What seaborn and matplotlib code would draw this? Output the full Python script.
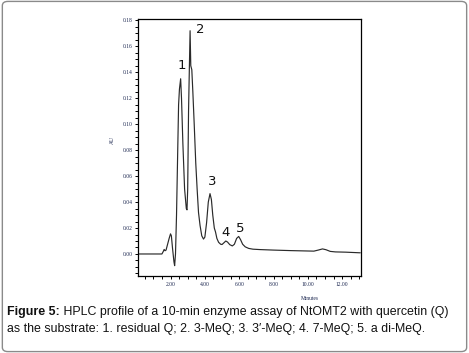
import pandas as pd
import matplotlib.pyplot as plt
import seaborn as sns
from matplotlib.ticker import MultipleLocator, FormatStrFormatter
from matplotlib.patches import FancyBboxPatch

# HPLC trace (minutes, AU)
minutes = [0.10, 1.50, 1.58, 1.63, 1.68, 1.74, 1.82, 1.92, 2.00, 2.05, 2.12, 2.20,
           2.24, 2.29, 2.35, 2.42, 2.47, 2.52, 2.59, 2.64, 2.72, 2.82, 2.92, 2.96,
           3.00, 3.05, 3.10, 3.14, 3.18, 3.24, 3.30, 3.38, 3.47, 3.55, 3.63, 3.72,
           3.82, 3.92, 4.00, 4.10, 4.20, 4.30, 4.38, 4.46, 4.55, 4.62, 4.70, 4.80,
           4.92, 5.00, 5.10, 5.22, 5.32, 5.45, 5.60, 5.72, 5.85, 5.97, 6.08, 6.20,
           6.35, 6.55, 6.80, 7.20, 8.00, 9.00, 10.00, 10.35, 10.60, 10.85, 11.05,
           11.30, 11.60, 12.20, 13.05]
au = [0.0, 0.0, 0.002, 0.0035, 0.0025, 0.003, 0.007, 0.012, 0.0155, 0.014, 0.004, -0.006,
      -0.009, 0.0, 0.03, 0.08, 0.115, 0.127, 0.135, 0.12, 0.085, 0.05, 0.035, 0.034,
      0.05, 0.11, 0.145, 0.172, 0.145, 0.142, 0.125, 0.10, 0.07, 0.05, 0.032, 0.022,
      0.014, 0.0115, 0.013, 0.024, 0.040, 0.0465, 0.042, 0.03, 0.02, 0.017, 0.012, 0.009,
      0.0075, 0.0073, 0.0085, 0.0100, 0.0092, 0.0072, 0.0062, 0.0075, 0.012, 0.0135, 0.011, 0.0075,
      0.0055, 0.0043, 0.0037, 0.0034, 0.003, 0.0026, 0.0023, 0.0022, 0.0030, 0.0039, 0.0033,
      0.0020, 0.0016, 0.0014, 0.0009]

# peak numbers and where they sit
peak_labels = ['1', '2', '3', '4', '5']
peak_x = [2.65, 3.76, 4.44, 5.20, 6.05]
peak_y = [0.145, 0.173, 0.0556, 0.0162, 0.020]

caption_bold = 'Figure 5:'
caption_line1 = ' HPLC profile of a 10-min enzyme assay of NtOMT2 with quercetin (Q)'
caption_line2 = 'as the substrate: 1. residual Q; 2. 3-MeQ; 3. 3\u2032-MeQ; 4. 7-MeQ; 5. a di-MeQ.'

df = pd.DataFrame({'Minutes': minutes, 'AU': au})

sns.set_style('ticks')
plt.rcParams['font.family'] = ['Liberation Sans', 'DejaVu Sans']

fig = plt.figure(figsize=(4.69, 3.53), dpi=100)
ax = fig.add_axes([0.294, 0.218, 0.476, 0.728])

sns.lineplot(data=df, x='Minutes', y='AU', ax=ax, color='#2a2a2a', lw=0.85)

ax.set_xlim(0.1, 13.1)
ax.set_ylim(-0.017, 0.181)

ax.xaxis.set_major_locator(MultipleLocator(2))
ax.xaxis.set_minor_locator(MultipleLocator(0.5))
ax.yaxis.set_major_locator(MultipleLocator(0.02))
ax.yaxis.set_minor_locator(MultipleLocator(0.005))
ax.xaxis.set_major_formatter(FormatStrFormatter('%.2f'))
ax.yaxis.set_major_formatter(FormatStrFormatter('%.2f'))
ax.tick_params(which='both', direction='out', length=2.5, width=0.7, color='black',
               labelsize=4, labelcolor='#1c2750', pad=1.5)
for lab in ax.get_xticklabels() + ax.get_yticklabels():
    lab.set_family('Liberation Serif')

for s in ax.spines.values():
    s.set_linewidth(0.9)
    s.set_color('black')

ax.set_xlabel('Minutes', fontsize=4, color='#1c2750', family='Liberation Serif')
ax.set_ylabel('AU', fontsize=4, color='#1c2750', family='Liberation Serif')
ax.xaxis.set_label_coords(0.77, -0.078)
ax.yaxis.set_label_coords(-0.103, 0.53)

for lbl, px, py in zip(peak_labels, peak_x, peak_y):
    ax.text(px, py, lbl, fontsize=9.5, ha='center', va='center', color='#111111',
            family='DejaVu Sans')

# caption under the chart, bold lead-in followed by plain text
t = fig.text(0.015, 0.116, caption_bold, fontsize=8.95, fontweight='bold', va='center',
             color='#111111')
ax.annotate(caption_line1, xy=(1, 0.5), xycoords=t, va='center', ha='left',
            fontsize=8.95, color='#111111', annotation_clip=False)
fig.text(0.015, 0.068, caption_line2, fontsize=8.95, va='center', color='#111111')

# rounded border round the whole figure
border = FancyBboxPatch((0.005, 0.004), 0.99, 0.992, boxstyle='round,pad=0,rounding_size=0.012',
                        transform=fig.transFigure, fill=False, edgecolor='#8a8a8a', lw=1.0)
fig.patches.append(border)

plt.savefig('out.png', dpi=100)
